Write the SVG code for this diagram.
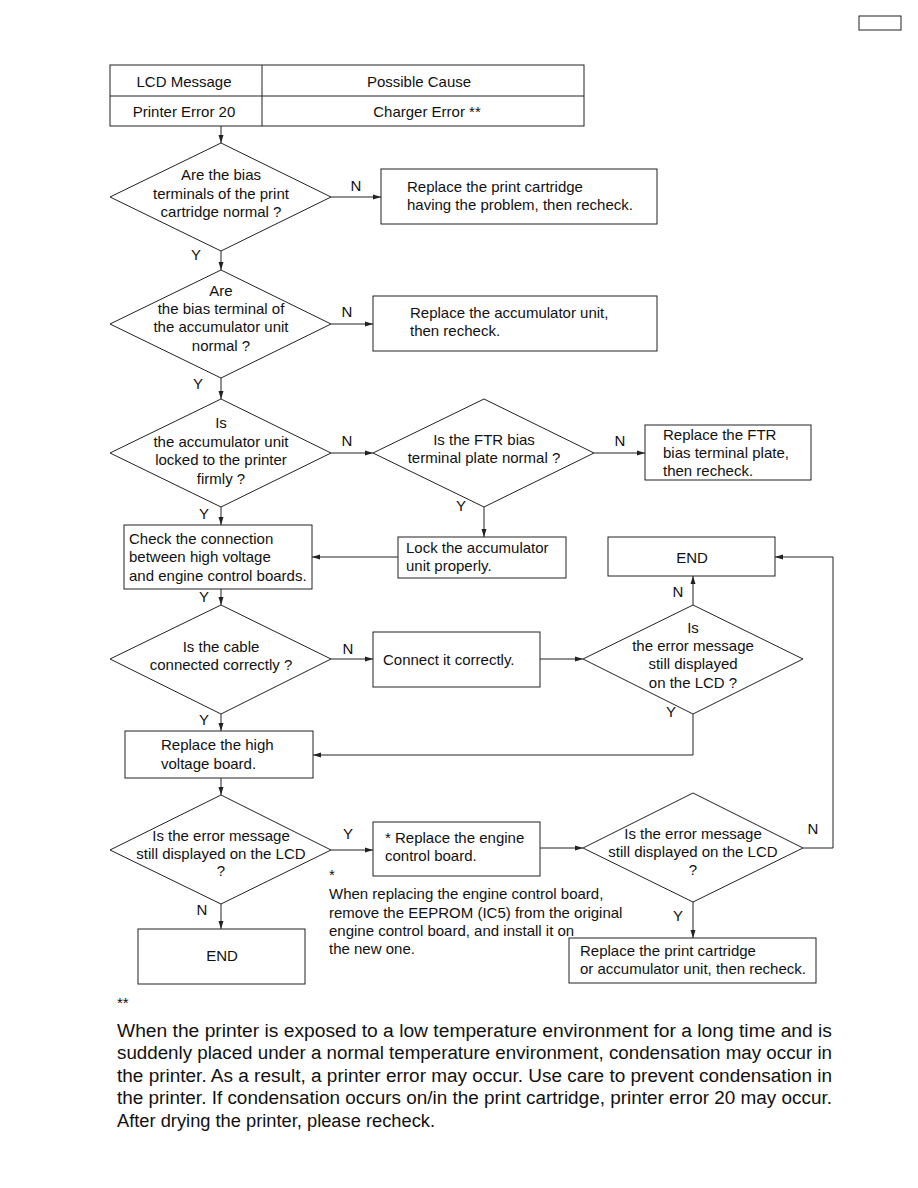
<svg xmlns="http://www.w3.org/2000/svg" width="918" height="1188" viewBox="0 0 918 1188">
<style>
text{font-family:"Liberation Sans",Arial,sans-serif;font-size:15px;fill:#111}
.c{text-anchor:middle}
.shape{fill:#fff;stroke:#222;stroke-width:1}
.ln{fill:none;stroke:#222;stroke-width:1}
.p{font-size:18px}
</style>
<defs>
<marker id="ah" viewBox="0 0 8 6" refX="8" refY="3" markerWidth="8" markerHeight="6" orient="auto" markerUnits="userSpaceOnUse">
<path d="M0,0.5 L8,3 L0,5.5 Z" fill="#222"/>
</marker>
</defs>
<rect width="918" height="1188" fill="#fff"/>
<rect x="859" y="16" width="42" height="14" class="shape" stroke-width="1.5"/>

<g id="table">
<rect x="110" y="65" width="474" height="61" class="shape"/>
<line x1="110" y1="96" x2="584" y2="96" class="ln"/>
<line x1="262" y1="65" x2="262" y2="126" class="ln"/>
<text x="184" y="87" class="c">LCD Message</text>
<text x="419" y="87" class="c">Possible Cause</text>
<text x="184" y="117" class="c">Printer Error 20</text>
<text x="427" y="117" class="c">Charger Error **</text>
</g>

<g id="connectors">
<line x1="221" y1="126" x2="221" y2="143" class="ln" marker-end="url(#ah)"/>
<line x1="331" y1="197" x2="381" y2="197" class="ln" marker-end="url(#ah)"/>
<line x1="221" y1="251" x2="221" y2="270" class="ln" marker-end="url(#ah)"/>
<line x1="331" y1="324" x2="373" y2="324" class="ln" marker-end="url(#ah)"/>
<line x1="221" y1="378" x2="221" y2="399" class="ln" marker-end="url(#ah)"/>
<line x1="331" y1="453" x2="373" y2="453" class="ln" marker-end="url(#ah)"/>
<line x1="594" y1="453" x2="645" y2="453" class="ln" marker-end="url(#ah)"/>
<line x1="221" y1="507" x2="221" y2="525" class="ln" marker-end="url(#ah)"/>
<line x1="484" y1="507" x2="484" y2="537" class="ln" marker-end="url(#ah)"/>
<line x1="398" y1="557" x2="312" y2="557" class="ln" marker-end="url(#ah)"/>
<line x1="221" y1="589" x2="221" y2="605" class="ln" marker-end="url(#ah)"/>
<line x1="331" y1="659" x2="373" y2="659" class="ln" marker-end="url(#ah)"/>
<line x1="540" y1="659" x2="583" y2="659" class="ln" marker-end="url(#ah)"/>
<line x1="693" y1="605" x2="693" y2="576" class="ln" marker-end="url(#ah)"/>
<polyline points="693,714 693,755 313,755" class="ln" marker-end="url(#ah)"/>
<line x1="221" y1="714" x2="221" y2="731" class="ln" marker-end="url(#ah)"/>
<line x1="221" y1="778" x2="221" y2="795" class="ln" marker-end="url(#ah)"/>
<line x1="331" y1="850" x2="373" y2="850" class="ln" marker-end="url(#ah)"/>
<line x1="540" y1="848" x2="583" y2="848" class="ln" marker-end="url(#ah)"/>
<polyline points="803,848 833,848 833,557 775,557" class="ln" marker-end="url(#ah)"/>
<line x1="693" y1="902" x2="693" y2="938" class="ln" marker-end="url(#ah)"/>
<line x1="221" y1="904" x2="221" y2="929" class="ln" marker-end="url(#ah)"/>
<text x="356" y="191" class="c">N</text>
<text x="196" y="260" class="c">Y</text>
<text x="347" y="317" class="c">N</text>
<text x="198" y="389" class="c">Y</text>
<text x="347" y="446" class="c">N</text>
<text x="620" y="446" class="c">N</text>
<text x="204" y="519" class="c">Y</text>
<text x="461" y="511" class="c">Y</text>
<text x="204" y="602" class="c">Y</text>
<text x="348" y="654" class="c">N</text>
<text x="678" y="597" class="c">N</text>
<text x="671" y="717" class="c">Y</text>
<text x="204" y="725" class="c">Y</text>
<text x="348" y="839" class="c">Y</text>
<text x="813" y="834" class="c">N</text>
<text x="678" y="921" class="c">Y</text>
<text x="202" y="915" class="c">N</text>
</g>

<g id="d1">
<polygon points="221,143 331,197 221,251 110,197" class="shape"/>
<text x="221" y="180" class="c">Are the bias</text>
<text x="221" y="199" class="c">terminals of the print</text>
<text x="221" y="217" class="c">cartridge normal ?</text>
</g>
<g id="b1">
<rect x="381" y="169" width="276" height="55" class="shape"/>
<text x="407" y="192">Replace the print cartridge</text>
<text x="407" y="210">having the problem, then recheck.</text>
</g>

<g id="d2">
<polygon points="221,270 331,324 221,378 110,324" class="shape"/>
<text x="221" y="296" class="c">Are</text>
<text x="221" y="314" class="c">the bias terminal of</text>
<text x="221" y="332" class="c">the accumulator unit</text>
<text x="221" y="351" class="c">normal ?</text>
</g>
<g id="b2">
<rect x="373" y="296" width="284" height="55" class="shape"/>
<text x="410" y="318">Replace the accumulator unit,</text>
<text x="410" y="336">then recheck.</text>
</g>

<g id="d3">
<polygon points="221,399 331,453 221,507 110,453" class="shape"/>
<text x="221" y="428" class="c">Is</text>
<text x="221" y="447" class="c">the accumulator unit</text>
<text x="221" y="465" class="c">locked to the printer</text>
<text x="221" y="484" class="c">firmly ?</text>
</g>
<g id="d4">
<polygon points="484,399 594,453 484,507 373,453" class="shape"/>
<text x="484" y="445" class="c">Is the FTR bias</text>
<text x="484" y="463" class="c">terminal plate normal ?</text>
</g>
<g id="b3">
<rect x="645" y="425" width="166" height="55" class="shape"/>
<text x="663" y="440">Replace the FTR</text>
<text x="663" y="458">bias terminal plate,</text>
<text x="663" y="476">then recheck.</text>
</g>

<g id="b4">
<rect x="124" y="525" width="188" height="64" class="shape"/>
<text x="129" y="544">Check the connection</text>
<text x="129" y="562">between high voltage</text>
<text x="129" y="581">and engine control boards.</text>
</g>
<g id="b5">
<rect x="398" y="537" width="168" height="41" class="shape"/>
<text x="406" y="553">Lock the accumulator</text>
<text x="406" y="571">unit properly.</text>
</g>
<g id="end1">
<rect x="608" y="537" width="167" height="39" class="shape"/>
<text x="692" y="563" class="c">END</text>
</g>

<g id="d5">
<polygon points="221,605 331,659 221,714 110,659" class="shape"/>
<text x="221" y="652" class="c">Is the cable</text>
<text x="221" y="670" class="c">connected correctly ?</text>
</g>
<g id="b6">
<rect x="373" y="632" width="167" height="55" class="shape"/>
<text x="383" y="665">Connect it correctly.</text>
</g>
<g id="d6">
<polygon points="693,605 803,659 693,714 583,659" class="shape"/>
<text x="693" y="633" class="c">Is</text>
<text x="693" y="651" class="c">the error message</text>
<text x="693" y="669" class="c">still displayed</text>
<text x="693" y="688" class="c">on the LCD ?</text>
</g>

<g id="b7">
<rect x="125" y="731" width="188" height="47" class="shape"/>
<text x="161" y="750">Replace the high</text>
<text x="161" y="769">voltage board.</text>
</g>

<g id="d7">
<polygon points="221,795 331,850 221,904 110,850" class="shape"/>
<text x="221" y="841" class="c">Is the error message</text>
<text x="221" y="859" class="c">still displayed on the LCD</text>
<text x="221" y="876" class="c">?</text>
</g>
<g id="b8">
<rect x="373" y="822" width="167" height="54" class="shape"/>
<text x="385" y="843">* Replace the engine</text>
<text x="385" y="861">control board.</text>
</g>
<g id="d8">
<polygon points="693,793 803,848 693,902 583,848" class="shape"/>
<text x="693" y="839" class="c">Is the error message</text>
<text x="693" y="857" class="c">still displayed on the LCD</text>
<text x="693" y="875" class="c">?</text>
</g>
<g id="b9">
<rect x="569" y="938" width="247" height="45" class="shape"/>
<text x="580" y="956">Replace the print cartridge</text>
<text x="580" y="974">or accumulator unit, then recheck.</text>
</g>
<g id="end2">
<rect x="138" y="929" width="167" height="55" class="shape"/>
<text x="222" y="961" class="c">END</text>
</g>

<g id="note1">
<text x="329" y="880">*</text>
<text x="329" y="899">When replacing the engine control board,</text>
<text x="329" y="918">remove the EEPROM (IC5) from the original</text>
<text x="329" y="936">engine control board, and install it on</text>
<text x="329" y="954">the new one.</text>
</g>

<g id="note2">
<text x="117" y="1008" font-size="13">**</text>
<text x="117" y="1037" class="p" textLength="715" lengthAdjust="spacingAndGlyphs">When the printer is exposed to a low temperature environment for a long time and is</text>
<text x="117" y="1059" class="p" textLength="715" lengthAdjust="spacingAndGlyphs">suddenly placed under a normal temperature environment, condensation may occur in</text>
<text x="117" y="1082" class="p" textLength="715" lengthAdjust="spacingAndGlyphs">the printer. As a result, a printer error may occur. Use care to prevent condensation in</text>
<text x="117" y="1104" class="p" textLength="715" lengthAdjust="spacingAndGlyphs">the printer. If condensation occurs on/in the print cartridge, printer error 20 may occur.</text>
<text x="117" y="1127" class="p" textLength="318" lengthAdjust="spacingAndGlyphs">After drying the printer, please recheck.</text>
</g>
</svg>
